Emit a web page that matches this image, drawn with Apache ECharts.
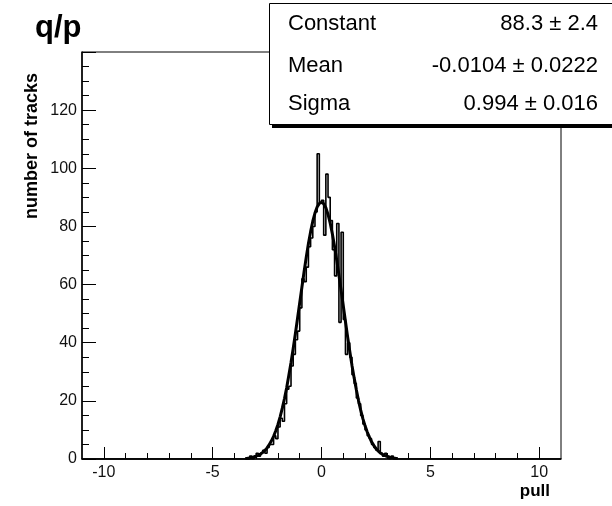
<!DOCTYPE html>
<html>
<head>
<meta charset="utf-8">
<script src="https://cdn.jsdelivr.net/npm/echarts@6/dist/echarts.min.js"></script>
<style>
html,body{margin:0;padding:0;background:#fff;}
#chart{width:612px;height:506px;}
</style>
</head>
<body>
<div id="chart"></div>
<script>
// ---- data ----
const chartTitle = 'q/p';
const xAxisTitle = 'pull';
const yAxisTitle = 'number of tracks';
const xRange = [-11, 11];
const yRange = [0, 140];
const xMajorTicks = [-10, -5, 0, 5, 10];
const xMinorTicks = [-10, -9, -8, -7, -6, -5, -4, -3, -2, -1, 0, 1, 2, 3, 4, 5, 6, 7, 8, 9, 10];

// histogram: first bin low edge, bin width, and counts per bin (from -3.5 to 3.5)
const binLow = -3.5;
const binWidth = 0.1;
const counts = [
  0, 0, 1, 0, 1, 2, 1, 2, 3, 2,
  4, 5, 5, 8, 7, 11, 14, 13, 19, 24,
  25, 32, 36, 41, 44, 52, 62, 61, 66, 73,
  76, 80, 85, 105, 88, 89, 77, 98, 90, 82,
  72, 63, 81, 47, 78, 48, 36, 40, 35, 29,
  26, 21, 19, 15, 12, 10, 8, 7, 5, 4,
  3, 6, 2, 1, 2, 1, 0, 1, 0, 0
];

// fitted gaussian curve, sampled every 0.1 from -3.5 to 3.5
const fitX = [
  -3.5, -3.4, -3.3, -3.2, -3.1, -3.0, -2.9, -2.8, -2.7, -2.6,
  -2.5, -2.4, -2.3, -2.2, -2.1, -2.0, -1.9, -1.8, -1.7, -1.6,
  -1.5, -1.4, -1.3, -1.2, -1.1, -1.0, -0.9, -0.8, -0.7, -0.6,
  -0.5, -0.4, -0.3, -0.2, -0.1, 0.0, 0.1, 0.2, 0.3, 0.4,
  0.5, 0.6, 0.7, 0.8, 0.9, 1.0, 1.1, 1.2, 1.3, 1.4,
  1.5, 1.6, 1.7, 1.8, 1.9, 2.0, 2.1, 2.2, 2.3, 2.4,
  2.5, 2.6, 2.7, 2.8, 2.9, 3.0, 3.1, 3.2, 3.3, 3.4, 3.5
];
const fitY = [
  0.19, 0.26, 0.37, 0.51, 0.70, 0.96, 1.29, 1.72, 2.27, 2.95,
  3.83, 4.91, 6.24, 7.8, 9.7, 11.9, 14.5, 17.5, 20.8, 24.5,
  28.8, 33.2, 38.0, 43.1, 48.4, 53.8, 59.1, 64.4, 69.4, 74.1,
  78.2, 81.8, 84.6, 86.7, 87.9, 88.3, 87.8, 86.4, 84.1, 81.1,
  77.4, 73.1, 68.4, 63.3, 58.1, 52.7, 47.3, 42.0, 37.0, 32.2,
  27.9, 23.8, 20.1, 16.8, 13.9, 11.4, 9.3, 7.5, 5.9, 4.7,
  3.6, 2.8, 2.1, 1.62, 1.21, 0.90, 0.66, 0.48, 0.34, 0.25, 0.17
];

// fit statistics box
const statNames = ['Constant', 'Mean', 'Sigma'];
const statValues = ['88.3 \u00b1 2.4', '-0.0104 \u00b1 0.0222', '0.994 \u00b1 0.016'];

// ---- build series data ----
const histData = [[xRange[0], 0]];
for (let i = 0; i < counts.length; i++) {
  histData.push([+(binLow + i * binWidth).toFixed(3), counts[i]]);
}
histData.push([+(binLow + counts.length * binWidth).toFixed(3), 0]);
histData.push([xRange[1], 0]);

const fitData = fitX.map((x, i) => [x, fitY[i]]);

const FONT = '"Liberation Sans", Arial, Helvetica, sans-serif';

const chart = echarts.init(document.getElementById('chart'), null, {renderer: 'canvas'});

const statTexts = [];
const rowY = [24, 66, 104];
statNames.forEach((n, i) => {
  statTexts.push({
    type: 'text', z: 110,
    style: {text: n, x: 288, y: rowY[i], font: '22px ' + FONT, fill: '#000',
            textAlign: 'left', textVerticalAlign: 'middle'}
  });
  statTexts.push({
    type: 'text', z: 110,
    style: {text: statValues[i], x: 598, y: rowY[i], font: '22px ' + FONT, fill: '#000',
            textAlign: 'right', textVerticalAlign: 'middle'}
  });
});

const option = {
  animation: false,
  backgroundColor: '#fff',
  grid: {
    left: 82, top: 52, right: 51, bottom: 47,
    show: true, borderColor: '#000', borderWidth: 1, backgroundColor: '#fff'
  },
  xAxis: [
    {
      type: 'value', min: xRange[0], max: xRange[1], position: 'bottom',
      axisLine: {show: true, onZero: false, lineStyle: {color: '#000', width: 1.5}},
      axisTick: {show: true, inside: true, length: 12, customValues: xMajorTicks,
                 lineStyle: {color: '#000', width: 1}},
      axisLabel: {show: true, customValues: xMajorTicks, margin: 6, fontSize: 16,
                  fontFamily: FONT, color: '#111'},
      splitLine: {show: false}
    },
    {
      type: 'value', min: xRange[0], max: xRange[1], position: 'bottom',
      axisLine: {show: false, onZero: false},
      axisTick: {show: true, inside: true, length: 6, customValues: xMinorTicks,
                 lineStyle: {color: '#000', width: 1}},
      axisLabel: {show: false},
      splitLine: {show: false}
    }
  ],
  yAxis: {
    type: 'value', min: yRange[0], max: yRange[1], interval: 20,
    axisLine: {show: true, onZero: false, lineStyle: {color: '#000', width: 1.5}},
    axisTick: {show: true, inside: true, length: 14, lineStyle: {color: '#000', width: 1}},
    minorTick: {show: true, splitNumber: 4, length: 7, lineStyle: {color: '#000', width: 1}},
    axisLabel: {show: true, margin: 5, fontSize: 16, fontFamily: FONT, color: '#111',
                showMaxLabel: false},
    splitLine: {show: false},
    minorSplitLine: {show: false}
  },
  series: [
    {
      name: 'histogram', type: 'line', step: 'end', data: histData,
      xAxisIndex: 0, yAxisIndex: 0,
      showSymbol: false, symbol: 'none',
      lineStyle: {color: '#000', width: 1.6}, z: 3
    },
    {
      name: 'fit', type: 'line', data: fitData,
      xAxisIndex: 0, yAxisIndex: 0,
      showSymbol: false, symbol: 'none', smooth: false,
      lineStyle: {color: '#000', width: 3}, z: 4
    }
  ],
  graphic: [
    {type: 'text', z: 100,
     style: {text: chartTitle, x: 35, y: 28, font: 'bold 31px ' + FONT, fill: '#000',
             textAlign: 'left', textVerticalAlign: 'middle'}},
    {type: 'text', z: 100, x: 32, y: 146, rotation: Math.PI / 2,
     style: {text: yAxisTitle, x: 0, y: 0, font: 'bold 18px ' + FONT, fill: '#000',
             textAlign: 'center', textVerticalAlign: 'middle'}},
    {type: 'text', z: 100,
     style: {text: xAxisTitle, x: 550, y: 491, font: 'bold 17px ' + FONT, fill: '#000',
             textAlign: 'right', textVerticalAlign: 'middle'}},
    // stats box shadow and box
    {type: 'rect', z: 100, shape: {x: 272, y: 6, width: 345, height: 122},
     style: {fill: '#000'}},
    {type: 'rect', z: 101, shape: {x: 269.5, y: 3.5, width: 345, height: 121},
     style: {fill: '#fff', stroke: '#000', lineWidth: 1}}
  ].concat(statTexts)
};

chart.setOption(option);
</script>
</body>
</html>
